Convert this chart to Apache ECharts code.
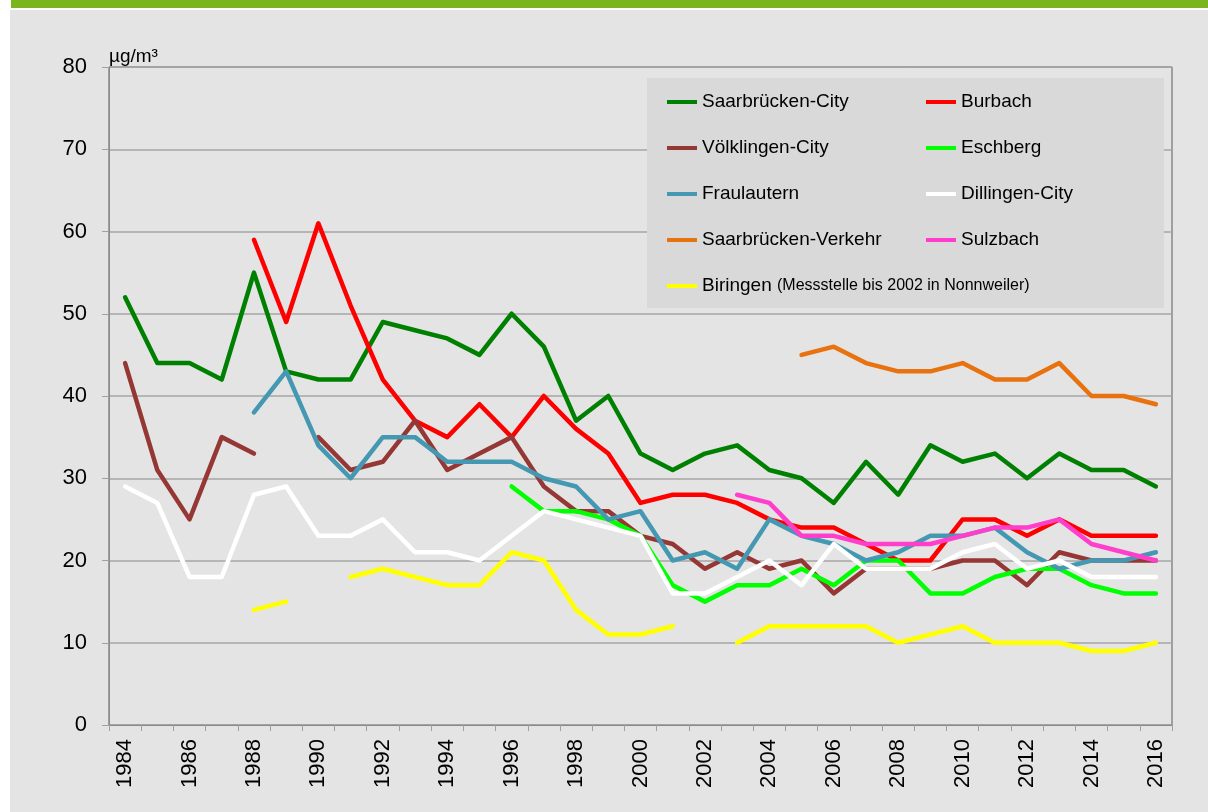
<!DOCTYPE html>
<html>
<head>
<meta charset="utf-8">
<script src="https://cdn.jsdelivr.net/npm/echarts@6/dist/echarts.min.js"></script>
<style>
  html, body { margin: 0; padding: 0; background: #ffffff; }
  #topbar { position: absolute; left: 11px; top: 0; width: 1197px; height: 8px; background: #7ab51d; }
  #chart { position: absolute; left: 10px; top: 10px; width: 1198px; height: 802px; background: #e3e4e3; }
</style>
</head>
<body>
<div id="topbar"></div>
<div id="chart"></div>
<script>
const years = ['1984','1985','1986','1987','1988','1989','1990','1991','1992','1993',
  '1994','1995','1996','1997','1998','1999','2000','2001','2002','2003',
  '2004','2005','2006','2007','2008','2009','2010','2011','2012','2013',
  '2014','2015','2016'];

const saarCity = [52,44,44,42,55,43,42,42,49,48, 47,45,50,46,37,40,33,31,33,34, 31,30,27,32,28,34,32,33,30,33, 31,31,29];
const burbach = [null,null,null,null,59,49,61,51,42,37, 35,39,35,40,36,33,27,28,28,27, 25,24,24,22,20,20,25,25,23,25, 23,23,23];
const voelklingen = [44,31,25,35,33,null,35,31,32,37, 31,33,35,29,26,26,23,22,19,21, 19,20,16,19,19,19,20,20,17,21, 20,20,20];
const eschberg = [null,null,null,null,null,null,null,null,null,null, null,null,29,26,26,25,23,17,15,17, 17,19,17,20,20,16,16,18,19,19, 17,16,16];
const fraulautern = [null,null,null,null,38,43,34,30,35,35, 32,32,32,30,29,25,26,20,21,19, 25,23,22,20,21,23,23,24,21,19, 20,20,21];
const dillingen = [29,27,18,18,28,29,23,23,25,21, 21,20,23,26,25,24,23,16,16,18, 20,17,22,19,19,19,21,22,19,20, 18,18,18];
const saarVerkehr = [null,null,null,null,null,null,null,null,null,null, null,null,null,null,null,null,null,null,null,null, null,45,46,44,43,43,44,42,42,44, 40,40,39];
const sulzbach = [null,null,null,null,null,null,null,null,null,null, null,null,null,null,null,null,null,null,null,28, 27,23,23,22,22,22,23,24,24,25, 22,21,20];
const biringen = [null,null,null,null,14,15,null,18,19,18, 17,17,21,20,14,11,11,12,null,10, 12,12,12,12,10,11,12,10,10,10, 9,9,10];

const seriesDefs = [
  { name: 'Saarbrücken-City', data: saarCity, color: '#008000' },
  { name: 'Burbach', data: burbach, color: '#ff0000' },
  { name: 'Völklingen-City', data: voelklingen, color: '#953735' },
  { name: 'Eschberg', data: eschberg, color: '#00ff00' },
  { name: 'Fraulautern', data: fraulautern, color: '#4598b1' },
  { name: 'Dillingen-City', data: dillingen, color: '#ffffff' },
  { name: 'Saarbrücken-Verkehr', data: saarVerkehr, color: '#e8720f' },
  { name: 'Sulzbach', data: sulzbach, color: '#ff3fcc' },
  { name: 'Biringen', data: biringen, color: '#ffff00' }
];

const font = '"Liberation Sans", Arial, sans-serif';

const legendBase = {
  orient: 'vertical',
  icon: 'rect',
  itemWidth: 30,
  itemHeight: 4,
  itemGap: 26,
  selectedMode: false,
  padding: 0,
  textStyle: {
    fontFamily: font, fontSize: 19, color: '#000', lineHeight: 20,
    rich: {
      a: { fontFamily: font, fontSize: 19, color: '#000', lineHeight: 20 },
      b: { fontFamily: font, fontSize: 16, color: '#000', lineHeight: 20 }
    }
  },
  formatter: (name) => name === 'Biringen'
    ? '{a|Biringen} {b|(Messstelle bis 2002 in Nonnweiler)}'
    : name
};

const chart = echarts.init(document.getElementById('chart'));

const option = {
  backgroundColor: 'transparent',
  animation: false,
  grid: {
    left: 99, right: 36, top: 57, bottom: 87,
    show: true, borderColor: '#5a5a5a', borderWidth: 1, backgroundColor: 'transparent'
  },
  graphic: [{
    type: 'rect',
    z: 1,
    shape: { x: 637, y: 68, width: 517, height: 230 },
    style: { fill: '#d9d9d9' }
  }],
  legend: [
    Object.assign({}, legendBase, {
      left: 657, top: 82,
      data: ['Saarbrücken-City', 'Völklingen-City', 'Fraulautern', 'Saarbrücken-Verkehr', 'Biringen']
    }),
    Object.assign({}, legendBase, {
      left: 916, top: 82,
      data: ['Burbach', 'Eschberg', 'Dillingen-City', 'Sulzbach']
    })
  ],
  xAxis: {
    type: 'category',
    data: years,
    boundaryGap: true,
    axisLine: { lineStyle: { color: '#8a8a8a', width: 1 } },
    axisTick: { show: true, interval: 0, length: 6, lineStyle: { color: '#a0a0a0' } },
    axisLabel: {
      interval: 1, rotate: 90, margin: 14,
      fontFamily: font, fontSize: 22, color: '#000'
    },
    splitLine: { show: false }
  },
  yAxis: {
    type: 'value',
    min: 0, max: 80, interval: 10,
    name: 'µg/m³',
    nameLocation: 'end',
    nameGap: 1,
    nameTextStyle: { fontFamily: font, fontSize: 19, color: '#000', align: 'left', verticalAlign: 'bottom' },
    axisLine: { show: true, lineStyle: { color: '#8a8a8a', width: 1 } },
    axisTick: { show: true, length: 7, lineStyle: { color: '#a0a0a0' } },
    axisLabel: { margin: 22, fontFamily: font, fontSize: 22, color: '#000' },
    splitLine: { lineStyle: { color: '#a6a6a6', width: 1.5 } }
  },
  series: seriesDefs.map(s => ({
    name: s.name,
    type: 'line',
    data: s.data,
    connectNulls: false,
    symbol: 'none',
    color: s.color,
    z: 3,
    lineStyle: { color: s.color, width: 4.5, cap: 'round', join: 'round' }
  }))
};

chart.setOption(option);
</script>
</body>
</html>
